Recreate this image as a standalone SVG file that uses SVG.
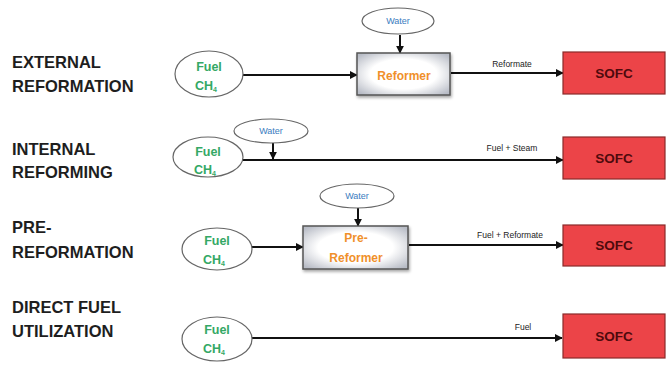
<svg xmlns="http://www.w3.org/2000/svg" width="668" height="371" viewBox="0 0 668 371">
<defs>
<marker id="ah" viewBox="0 0 10 10" refX="9" refY="5" markerWidth="4" markerHeight="4" orient="auto" markerUnits="strokeWidth">
<path d="M0,0 L10,5 L0,10 z" fill="#111"/>
</marker>
<radialGradient id="boxg" cx="50%" cy="50%" r="65%">
<stop offset="0.55" stop-color="#ffffff"/>
<stop offset="1" stop-color="#b8bcc6"/>
</radialGradient>
<filter id="sh" x="-10%" y="-10%" width="130%" height="140%">
<feDropShadow dx="1" dy="2" stdDeviation="1.5" flood-color="#000" flood-opacity="0.35"/>
</filter>
</defs>
<style>
.lbl{font-family:"Liberation Sans",Arial,sans-serif;font-weight:bold;font-size:16.5px;fill:#1e1e1e}
.ell{fill:#fff;stroke:#666;stroke-width:1.2}
.fuel{font-family:"Liberation Sans",Arial,sans-serif;font-weight:bold;font-size:12.5px;fill:#34a865;text-anchor:middle}
.water{font-family:"Liberation Sans",Arial,sans-serif;font-size:9px;fill:#3a7cc0;text-anchor:middle}
.box{fill:url(#boxg);stroke:#555;stroke-width:1.5;filter:url(#sh)}
.ref{font-family:"Liberation Sans",Arial,sans-serif;font-weight:bold;font-size:12px;fill:#f0902a;text-anchor:middle}
.sofc{fill:#ec4448;stroke:#8a2a2a;stroke-width:1.2}
.sofct{font-family:"Liberation Sans",Arial,sans-serif;font-weight:bold;font-size:13.5px;fill:#4f0a0d;text-anchor:middle}
.edge{stroke:#111;stroke-width:2;fill:none;marker-end:url(#ah)}
.el{font-family:"Liberation Sans",Arial,sans-serif;font-size:8.5px;fill:#222;text-anchor:middle}
</style>
<rect width="668" height="371" fill="#fff"/>

<g id="labels">
<text class="lbl" x="12" y="68">EXTERNAL</text>
<text class="lbl" x="12" y="92">REFORMATION</text>
<text class="lbl" x="12" y="155">INTERNAL</text>
<text class="lbl" x="12" y="178">REFORMING</text>
<text class="lbl" x="12" y="233">PRE-</text>
<text class="lbl" x="12" y="258">REFORMATION</text>
<text class="lbl" x="12" y="313">DIRECT FUEL</text>
<text class="lbl" x="12" y="337">UTILIZATION</text>
</g>

<g id="connectors">
<line class="edge" x1="243" y1="75" x2="357" y2="75"/>
<line class="edge" x1="400" y1="35" x2="400" y2="53"/>
<line class="edge" x1="451" y1="73" x2="563" y2="73"/>
<line class="edge" x1="243" y1="160" x2="563" y2="160"/>
<line class="edge" x1="273" y1="143" x2="273" y2="159"/>
<line class="edge" x1="252" y1="247" x2="303" y2="247"/>
<line class="edge" x1="358" y1="208" x2="358" y2="226"/>
<line class="edge" x1="409" y1="245" x2="563" y2="245"/>
<line class="edge" x1="252" y1="338" x2="562" y2="338"/>
<text class="el" x="512" y="67">Reformate</text>
<text class="el" x="512" y="151">Fuel + Steam</text>
<text class="el" x="510" y="238">Fuel + Reformate</text>
<text class="el" x="523" y="330">Fuel</text>
</g>

<g id="fuel1"><ellipse class="ell" cx="209" cy="74" rx="34" ry="23"/><text class="fuel" x="209" y="71">Fuel</text><text class="fuel" x="206" y="90">CH<tspan font-size="7" dy="2">4</tspan></text></g>
<g id="water1"><ellipse class="ell" cx="398" cy="21" rx="36" ry="13"/><text class="water" x="398" y="24">Water</text></g>
<g id="reformer"><rect class="box" x="357" y="53" width="93" height="42"/><text class="ref" x="404" y="80">Reformer</text></g>
<g id="sofc1"><rect class="sofc" x="563" y="52" width="102" height="42"/><text class="sofct" x="614" y="78">SOFC</text></g>

<g id="fuel2"><ellipse class="ell" cx="208" cy="157" rx="35" ry="20"/><text class="fuel" x="208" y="156">Fuel</text><text class="fuel" x="205" y="174">CH<tspan font-size="7" dy="2">4</tspan></text></g>
<g id="water2"><ellipse class="ell" cx="271" cy="131" rx="37" ry="12"/><text class="water" x="271" y="134">Water</text></g>
<g id="sofc2"><rect class="sofc" x="563" y="137" width="102" height="42"/><text class="sofct" x="614" y="163">SOFC</text></g>

<g id="fuel3"><ellipse class="ell" cx="217" cy="249" rx="35" ry="21"/><text class="fuel" x="217" y="245">Fuel</text><text class="fuel" x="214" y="264">CH<tspan font-size="7" dy="2">4</tspan></text></g>
<g id="water3"><ellipse class="ell" cx="357" cy="196" rx="37" ry="12"/><text class="water" x="357" y="199">Water</text></g>
<g id="prereformer"><rect class="box" x="303" y="226" width="105" height="43"/><text class="ref" x="356" y="242">Pre-</text><text class="ref" x="356" y="262">Reformer</text></g>
<g id="sofc3"><rect class="sofc" x="563" y="225" width="102" height="41"/><text class="sofct" x="614" y="250">SOFC</text></g>

<g id="fuel4"><ellipse class="ell" cx="217" cy="339" rx="35" ry="22"/><text class="fuel" x="217" y="334">Fuel</text><text class="fuel" x="214" y="353">CH<tspan font-size="7" dy="2">4</tspan></text></g>
<g id="sofc4"><rect class="sofc" x="563" y="314" width="102" height="44"/><text class="sofct" x="614" y="341">SOFC</text></g>
</svg>
